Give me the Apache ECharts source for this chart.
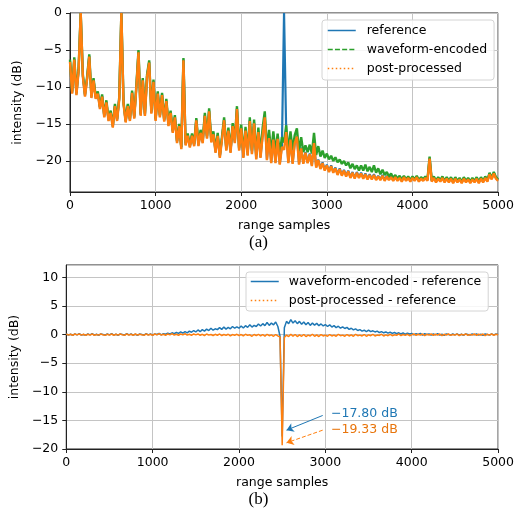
<!DOCTYPE html>
<html>
<head>
<meta charset="utf-8">
<script src="https://cdn.jsdelivr.net/npm/echarts@6.0.0/dist/echarts.min.js"></script>
<style>
  html, body { margin: 0; padding: 0; background: #fff; }
  #chart { width: 517px; height: 514px; }
</style>
</head>
<body>
<div id="chart"></div>
<script>
// range samples, one every 25
var samples = [];
for (var i = 0; i <= 200; i++) samples.push(i * 25);

// (a) intensity in dB (rows of 10 samples = 250 range samples)
var reference = [
  -6.5, -10.8, -6.2, -11.0, -7.8, 0, -8.5, -11.2, -8.8, -5.8,
  -11.4, -9.0, -11.5, -10.8, -12.9, -11.2, -14.0, -12.0, -14.5, -13.4,
  -15.4, -12.5, -14.5, -11.6, 0, -12.2, -14.7, -12.5, -14.5, -10.7,
  -14.2, -10.0, -5.2, -13.8, -9.0, -13.8, -8.5, -6.6, -13.5, -9.2,
  -14.5, -10.8, -14.0, -11.0, -14.6, -11.8, -15.2, -13.4, -16.1, -14.0,
  -17.5, -15.2, -18.3, -6.3, -17.8, -16.5, -18.1, -16.5, -17.9, -14.4,
  -17.9, -16.1, -17.5, -13.8, -16.9, -13.2, -17.4, -16.3, -18.8, -16.5,
  -19.5, -17.0, -14.4, -18.5, -15.8, -18.8, -15.2, -17.5, -12.9, -18.5,
  -15.5, -19.5, -15.8, -19.2, -14.5, -19.0, -14.8, -19.7, -16.0, -19.5,
  -16.5, -14.0, -19.8, -16.8, -20.2, -17.0, -20.2, -16.9, -20.4, -18.0,
  0, -16.0, -20.2, -17.0, -20.3, -17.5, -16.6, -20.4, -18.2, -20.3,
  -18.8, -20.2, -19.0, -20.6, -17.5, -20.8, -19.8, -21.0, -20.2, -21.2,
  -20.5, -21.4, -20.6, -21.5, -20.9, -21.8, -21.0, -21.9, -21.2, -22.0,
  -21.3, -22.2, -21.5, -22.3, -21.5, -22.2, -21.6, -22.3, -21.7, -22.4,
  -21.8, -22.4, -21.8, -22.5, -22.0, -22.5, -21.9, -22.6, -22.0, -22.5,
  -22.1, -22.6, -22.1, -22.6, -22.2, -22.7, -22.1, -22.6, -22.2, -22.7,
  -22.2, -22.6, -22.1, -22.7, -22.3, -22.6, -22.2, -22.6, -19.6, -22.7,
  -22.2, -22.8, -22.3, -22.7, -22.2, -22.8, -22.3, -22.8, -22.3, -22.9,
  -22.3, -22.8, -22.4, -22.9, -22.3, -22.8, -22.4, -22.9, -22.4, -22.8,
  -22.3, -22.9, -22.3, -22.8, -22.2, -22.7, -21.7, -22.4, -21.6, -22.3,
  -22.6
];
var waveformEncoded = [
  -6.3, -10.6, -6.0, -10.8, -7.6, 0, -8.3, -11.0, -8.6, -5.6,
  -11.2, -8.8, -11.3, -10.6, -12.7, -11.0, -13.8, -11.8, -14.3, -13.2,
  -15.2, -12.3, -14.3, -11.4, 0, -12.0, -14.5, -12.3, -14.3, -10.5,
  -14.0, -9.8, -5.0, -13.6, -8.8, -13.6, -8.3, -6.4, -13.3, -9.0,
  -14.3, -10.6, -13.8, -10.8, -14.4, -11.6, -15.0, -13.2, -15.9, -13.8,
  -17.3, -15.0, -18.1, -6.1, -17.6, -16.3, -17.9, -16.3, -17.7, -14.2,
  -17.6, -15.8, -17.2, -13.5, -16.6, -12.9, -17.1, -16.0, -18.5, -16.2,
  -19.2, -16.7, -14.1, -18.2, -15.5, -18.5, -14.9, -17.2, -12.6, -18.2,
  -15.1, -19.1, -15.4, -18.8, -14.1, -18.6, -14.4, -19.2, -15.5, -19.0,
  -15.5, -13.3, -18.5, -15.8, -19.0, -16.0, -18.8, -16.3, -19.0, -16.8,
  -17.5, -15.2, -18.8, -16.0, -18.5, -16.5, -15.6, -18.7, -16.8, -18.8,
  -17.9, -18.8, -17.8, -19.0, -16.2, -19.2, -18.0, -19.4, -18.6, -19.6,
  -19.0, -19.8, -19.3, -20.0, -19.5, -20.2, -19.8, -20.4, -20.0, -20.6,
  -20.2, -21.0, -20.4, -21.1, -20.6, -21.3, -20.6, -21.3, -20.5, -21.4,
  -20.8, -21.5, -20.6, -21.6, -21.0, -21.8, -21.2, -21.9, -21.5, -22.1,
  -21.7, -22.3, -21.9, -22.4, -22.0, -22.5, -22.0, -22.5, -22.1, -22.6,
  -22.1, -22.5, -22.0, -22.6, -22.2, -22.5, -22.1, -22.5, -19.4, -22.6,
  -22.1, -22.7, -22.2, -22.6, -22.1, -22.7, -22.2, -22.7, -22.2, -22.8,
  -22.2, -22.7, -22.3, -22.8, -22.2, -22.7, -22.3, -22.8, -22.3, -22.7,
  -22.2, -22.8, -22.2, -22.7, -22.1, -22.6, -21.6, -22.3, -21.5, -22.2,
  -22.5
];
var postProcessed = [
  -6.6, -10.9, -6.3, -11.1, -7.9, 0, -8.6, -11.3, -8.9, -5.9,
  -11.5, -9.1, -11.6, -10.9, -13.0, -11.3, -14.1, -12.1, -14.6, -13.5,
  -15.5, -12.6, -14.6, -11.7, 0, -12.3, -14.8, -12.6, -14.6, -10.8,
  -14.3, -10.1, -5.3, -13.9, -9.1, -13.9, -8.6, -6.7, -13.6, -9.3,
  -14.6, -10.9, -14.1, -11.1, -14.7, -11.9, -15.3, -13.5, -16.2, -14.1,
  -17.6, -15.3, -18.4, -6.4, -17.9, -16.6, -18.2, -16.6, -18.0, -14.5,
  -18.0, -16.2, -17.6, -13.9, -17.0, -13.3, -17.5, -16.4, -18.9, -16.6,
  -19.6, -17.1, -14.5, -18.6, -15.9, -18.9, -15.3, -17.6, -13.0, -18.6,
  -15.6, -19.6, -15.9, -19.3, -14.6, -19.1, -14.9, -19.8, -16.1, -19.6,
  -16.6, -14.1, -19.9, -16.9, -20.3, -17.1, -20.3, -17.0, -20.5, -18.1,
  -18.5, -16.1, -20.3, -17.1, -20.4, -17.6, -16.7, -20.5, -18.3, -20.4,
  -18.9, -20.3, -19.1, -20.7, -17.6, -20.9, -19.9, -21.1, -20.3, -21.3,
  -20.6, -21.5, -20.7, -21.6, -21.0, -21.9, -21.1, -22.0, -21.3, -22.1,
  -21.4, -22.3, -21.6, -22.4, -21.6, -22.3, -21.7, -22.4, -21.8, -22.5,
  -21.9, -22.5, -21.9, -22.6, -22.1, -22.6, -22.0, -22.7, -22.1, -22.6,
  -22.2, -22.7, -22.2, -22.7, -22.3, -22.8, -22.2, -22.7, -22.3, -22.8,
  -22.3, -22.7, -22.2, -22.8, -22.4, -22.7, -22.3, -22.7, -19.7, -22.8,
  -22.3, -22.9, -22.4, -22.8, -22.3, -22.9, -22.4, -22.9, -22.4, -23.0,
  -22.4, -22.9, -22.5, -23.0, -22.4, -22.9, -22.5, -23.0, -22.5, -22.9,
  -22.4, -23.0, -22.4, -22.9, -22.3, -22.8, -21.8, -22.5, -21.7, -22.4,
  -22.7
];

// (b) differences in dB
var encMinusRef = [
  0.1, -0.1, 0.05, -0.15, 0.1, -0.05, 0.15, -0.1, 0.0, -0.15,
  0.1, -0.05, 0.15, -0.1, 0.05, -0.15, 0.1, 0.0, -0.1, 0.1,
  -0.05, 0.15, -0.1, 0.05, -0.15, 0.1, 0.0, -0.1, 0.15, -0.05,
  0.1, -0.1, 0.05, -0.15, 0.1, 0.0, -0.1, 0.15, -0.05, 0.1,
  -0.1, 0.1, 0.0, 0.2, -0.05, 0.15, 0.05, 0.25, 0.1, 0.3,
  0.15, 0.35, 0.2, 0.45, 0.25, 0.5, 0.3, 0.6, 0.4, 0.7,
  0.45, 0.8, 0.5, 0.85, 0.6, 0.95, 0.7, 1.1, 0.75, 1.0,
  0.85, 1.2, 0.9, 1.3, 0.95, 1.25, 1.0, 1.4, 1.1, 1.35,
  1.1, 1.5, 1.15, 1.55, 1.25, 1.7, 1.3, 1.6, 1.4, 1.85,
  1.5, 1.9, 1.55, 2.1, 1.6, 2.0, 1.7, 2.2, 1.4, -0.3,
  -17.80, 1.2, 2.3, 1.9, 2.6, 2.0, 2.4, 1.9, 2.3, 1.8,
  2.2, 1.7, 2.1, 1.6, 2.0, 1.65, 1.95, 1.55, 1.85, 1.5,
  1.75, 1.4, 1.7, 1.3, 1.55, 1.2, 1.45, 1.1, 1.35, 1.05,
  1.25, 0.9, 1.1, 0.8, 1.0, 0.7, 0.85, 0.6, 0.75, 0.5,
  0.75, 0.5, 0.65, 0.45, 0.6, 0.35, 0.5, 0.3, 0.45, 0.25,
  0.4, 0.2, 0.35, 0.15, 0.3, 0.1, 0.3, 0.05, 0.25, 0.1,
  0.2, -0.05, 0.15, 0.0, 0.2, -0.1, 0.15, 0.0, 0.1, -0.1,
  0.1, -0.05, 0.15, -0.1, 0.05, -0.15, 0.1, 0.0, -0.1, 0.1,
  -0.05, 0.1, -0.1, 0.05, -0.15, 0.1, 0.0, -0.1, 0.1, -0.05,
  0.1, -0.1, 0.05, -0.15, 0.1, 0.0, -0.1, 0.1, -0.05, 0.1,
  0.0
];
var postMinusRef = [
  0.1, -0.1, 0.05, -0.15, 0.1, -0.05, 0.1, -0.1, 0.05, -0.15,
  0.05, -0.1, 0.1, -0.15, 0.0, -0.1, 0.1, -0.05, -0.15, 0.05,
  -0.1, 0.1, -0.15, 0.05, -0.1, 0.1, -0.05, -0.15, 0.1, -0.1,
  0.05, -0.15, 0.1, -0.1, 0.05, -0.05, -0.15, 0.1, -0.1, 0.05,
  -0.15, 0.1, -0.05, 0.15, -0.1, 0.05, -0.15, 0.1, -0.05, 0.15,
  -0.1, 0.05, -0.15, 0.1, -0.05, 0.15, -0.1, 0.05, -0.15, 0.1,
  -0.05, 0.1, -0.15, 0.05, -0.2, 0.1, -0.1, 0.0, -0.2, 0.05,
  -0.15, 0.1, -0.2, 0.0, -0.15, 0.05, -0.25, 0.0, -0.15, 0.05,
  -0.2, 0.0, -0.25, 0.05, -0.15, -0.05, -0.3, 0.0, -0.2, 0.05,
  -0.25, 0.0, -0.3, 0.05, -0.2, -0.05, -0.3, 0.0, -0.25, -0.4,
  -19.33, -0.5, -0.1, -0.35, 0.05, -0.3, 0.0, -0.35, -0.05, -0.3,
  0.0, -0.35, -0.1, -0.25, 0.05, -0.3, -0.05, -0.35, 0.0, -0.25,
  -0.1, -0.3, 0.0, -0.25, -0.1, -0.3, 0.05, -0.2, -0.1, -0.3,
  0.0, -0.25, -0.05, -0.3, 0.05, -0.2, -0.1, -0.25, 0.0, -0.3,
  -0.05, -0.2, 0.05, -0.25, -0.1, -0.15, 0.05, -0.25, -0.05, -0.2,
  0.05, -0.2, -0.05, -0.15, 0.1, -0.2, 0.0, -0.15, 0.05, -0.2,
  -0.05, 0.1, -0.15, 0.05, -0.1, 0.1, -0.2, 0.05, -0.1, 0.1,
  -0.15, 0.05, -0.1, 0.1, -0.2, 0.05, -0.1, 0.1, -0.15, 0.0,
  -0.1, 0.1, -0.2, 0.05, -0.1, 0.1, -0.15, 0.0, -0.1, 0.1,
  -0.15, 0.05, -0.1, 0.1, -0.2, 0.05, -0.1, 0.1, -0.15, 0.05,
  -0.05
];

// annotations in (b), data units: label anchor, arrow tail, arrow head
var annoBlue = { text: '\u221217.80 dB', at: [3065, -13.9], from: [2969, -14.14], to: [2550, -16.71] };
var annoOrange = { text: '\u221219.33 dB', at: [3065, -16.7], from: [2969, -16.71], to: [2550, -18.92] };

var BLUE = '#1f77b4', GREEN = '#2ca02c', ORANGE = '#ff7f0e';
var FONT = 'DejaVu Sans';
var DASHED = [5, 2.2], DOTTED = [1.5, 2.5];

function pairs(vals) {
  return vals.map(function (v, i) { return [samples[i], v]; });
}

function minusSign(v) { return String(v).replace('-', '\u2212'); }

function xAxisOpt(idx) {
  return {
    type: 'value', gridIndex: idx, min: 0, max: 5000, interval: 1000,
    name: 'range samples', nameLocation: 'middle', nameGap: 27,
    nameTextStyle: { fontFamily: FONT, fontSize: 12.5, color: '#000' },
    axisLine: { show: true, onZero: false, lineStyle: { color: '#222', width: 1 } },
    axisTick: { show: true, length: 4, lineStyle: { color: '#222', width: 1 } },
    axisLabel: { fontFamily: FONT, fontSize: 12.5, color: '#000', margin: 7, formatter: minusSign },
    splitLine: { show: true, lineStyle: { color: '#c4c4c4', width: 1 } }
  };
}

function yAxisOpt(idx, min, max, split, gap) {
  return {
    type: 'value', gridIndex: idx, min: min, max: max, splitNumber: split,
    name: 'intensity (dB)', nameLocation: 'middle', nameGap: gap,
    nameTextStyle: { fontFamily: FONT, fontSize: 12.5, color: '#000' },
    axisLine: { show: true, onZero: false, lineStyle: { color: '#222', width: 1 } },
    axisTick: { show: true, length: 4, lineStyle: { color: '#222', width: 1 } },
    axisLabel: {
      fontFamily: FONT, fontSize: 12.5, color: '#000', margin: 8,
      showMinLabel: idx === 1, showMaxLabel: idx === 0,
      formatter: minusSign
    },
    splitLine: { show: true, lineStyle: { color: '#c4c4c4', width: 1 } }
  };
}

function legendOpt(names, styles, left, top, gap, pad, textPad) {
  return {
    data: names.map(function (n, k) { return { name: n, lineStyle: styles[k] }; }),
    orient: 'vertical', left: left, top: top,
    padding: pad, itemGap: gap, itemWidth: 28, itemHeight: 14,
    itemStyle: { opacity: 0 },
    backgroundColor: 'rgba(255,255,255,0.85)', borderColor: '#d4d4d4', borderWidth: 1, borderRadius: 3,
    textStyle: { fontFamily: FONT, fontSize: 12.5, color: '#000', padding: [0, 0, 0, textPad] }
  };
}

var chart = echarts.init(document.getElementById('chart'), null, { renderer: 'canvas' });

chart.setOption({
  animation: false,
  backgroundColor: '#fff',
  title: [
    { text: '(a)', left: 'center', top: 234, padding: 0,
      textStyle: { fontFamily: 'Liberation Serif', fontSize: 17, fontWeight: 'normal', color: '#000' } },
    { text: '(b)', left: 'center', top: 491, padding: 0,
      textStyle: { fontFamily: 'Liberation Serif', fontSize: 17, fontWeight: 'normal', color: '#000' } }
  ],
  grid: [
    { left: 70, top: 13, width: 433, height: 179, show: true, borderColor: '#222', borderWidth: 1, backgroundColor: 'transparent' },
    { left: 64, top: 265, width: 437, height: 184, show: true, borderColor: '#222', borderWidth: 1, backgroundColor: 'transparent' }
  ],
  xAxis: [xAxisOpt(0), xAxisOpt(1)],
  yAxis: [yAxisOpt(0, -24.2, 0, 5, 43), yAxisOpt(1, -20, 12.15, 6, 41)],
  legend: [
    legendOpt(['reference', 'waveform-encoded', 'post-processed'],
      [{ color: BLUE, width: 1.5, type: 'solid' }, { color: GREEN, width: 1.5, type: DASHED }, { color: ORANGE, width: 1.5, type: DOTTED }],
      322, 20, 6, [4, 7, 5, 5], 6),
    legendOpt(['waveform-encoded - reference', 'post-processed - reference'],
      [{ color: BLUE, width: 1.5, type: 'solid' }, { color: ORANGE, width: 1.5, type: DOTTED }],
      246, 272, 6, [3, 7, 4, 4], 5)
  ],
  series: [
    {
      name: 'reference', type: 'line', xAxisIndex: 0, yAxisIndex: 0,
      data: pairs(reference), showSymbol: false, symbol: 'none',
      lineStyle: { color: BLUE, width: 2.2 }, itemStyle: { color: BLUE }
    },
    {
      name: 'waveform-encoded', type: 'line', xAxisIndex: 0, yAxisIndex: 0,
      data: pairs(waveformEncoded), showSymbol: false, symbol: 'none',
      lineStyle: { color: GREEN, width: 2.4 }, itemStyle: { color: GREEN }
    },
    {
      name: 'post-processed', type: 'line', xAxisIndex: 0, yAxisIndex: 0,
      data: pairs(postProcessed), showSymbol: false, symbol: 'none',
      lineStyle: { color: ORANGE, width: 2.4 }, itemStyle: { color: ORANGE }
    },
    {
      name: 'waveform-encoded - reference', type: 'line', xAxisIndex: 1, yAxisIndex: 1,
      data: pairs(encMinusRef), showSymbol: false, symbol: 'none',
      lineStyle: { color: BLUE, width: 1.5 }, itemStyle: { color: BLUE },
      markLine: {
        silent: true, symbol: ['none', 'arrow'], symbolSize: 7,
        label: { show: false },
        lineStyle: { color: BLUE, width: 1, type: 'solid' },
        data: [[{ coord: annoBlue.from }, { coord: annoBlue.to }]]
      },
      markPoint: {
        silent: true, symbol: 'circle', symbolSize: 0,
        label: { show: true, position: 'right', distance: 0, fontFamily: FONT, fontSize: 12.5, color: BLUE,
          formatter: annoBlue.text },
        data: [{ coord: annoBlue.at }]
      }
    },
    {
      name: 'post-processed - reference', type: 'line', xAxisIndex: 1, yAxisIndex: 1,
      data: pairs(postMinusRef), showSymbol: false, symbol: 'none',
      lineStyle: { color: ORANGE, width: 1.5 }, itemStyle: { color: ORANGE },
      markLine: {
        silent: true, symbol: ['none', 'arrow'], symbolSize: 7,
        label: { show: false },
        lineStyle: { color: ORANGE, width: 1, type: [4, 2] },
        data: [[{ coord: annoOrange.from }, { coord: annoOrange.to }]]
      },
      markPoint: {
        silent: true, symbol: 'circle', symbolSize: 0,
        label: { show: true, position: 'right', distance: 0, fontFamily: FONT, fontSize: 12.5, color: '#e8750c',
          formatter: annoOrange.text },
        data: [{ coord: annoOrange.at }]
      }
    }
  ]
});
</script>
</body>
</html>
